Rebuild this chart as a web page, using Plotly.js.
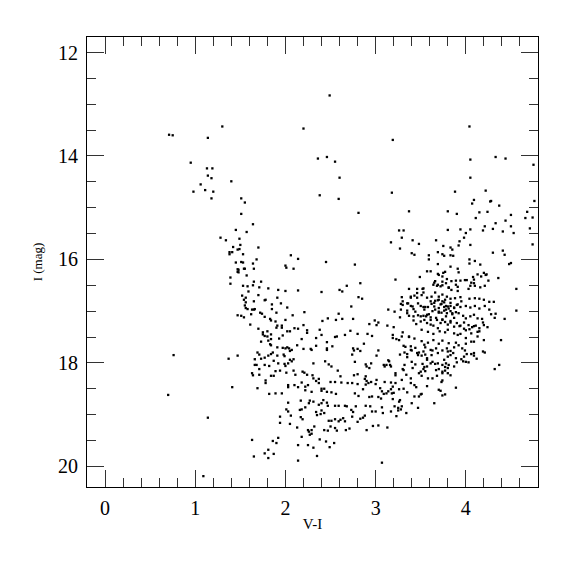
<!DOCTYPE html>
<html><head><meta charset="utf-8">
<script src="https://cdn.plot.ly/plotly-3.0.1.min.js"></script>
<style>html,body{margin:0;padding:0;background:#fff}</style>
</head><body><div id="chart" style="width:575px;height:575px"></div>
<script>
// Colour index V-I of each star
const colorVI = [
0.71,0.75,1.30,1.14,0.95,1.13,1.19,1.14,1.18,1.40,1.06,1.11,1.20,0.98,1.18,
2.49,2.20,2.36,2.46,2.55,2.60,2.38,2.59,1.51,1.55,1.51,2.81,
4.04,3.19,4.05,4.33,4.44,4.75,4.05,3.18,3.88,4.22,4.09,4.07,4.27,4.28,4.37,4.76,3.37,3.80,3.90,4.15,4.24,4.68,4.50,4.11,4.66,4.74,
1.45,1.28,1.34,1.42,1.38,1.38,1.41,1.47,1.45,1.47,1.47,1.39,1.39,1.47,
1.64,1.57,1.49,1.50,1.49,1.53,1.70,1.51,1.53,1.64,1.68,1.54,1.55,1.65,1.48,1.48,1.57,2.06,2.14,2.00,
2.01,2.09,2.45,2.77,1.53,1.58,1.65,1.73,1.64,1.71,1.81,1.92,2.00,2.14,2.40,2.60,2.63,2.68,2.83,2.81,
2.85,1.52,1.56,1.54,1.56,1.59,1.65,1.70,1.77,1.78,1.85,1.91,1.95,1.85,2.02,1.55,1.56,1.58,1.63,1.65,
1.66,1.72,1.74,1.90,1.62,1.51,1.54,1.77,2.08,2.21,2.59,2.75,2.47,2.56,2.63,2.41,2.73,2.99,3.03,3.01,
3.14,3.13,2.93,1.83,1.84,1.91,1.90,1.96,1.96,1.89,2.00,1.61,1.70,1.80,1.75,1.75,1.77,1.80,1.84,1.84,
1.81,1.83,1.84,1.73,2.02,2.05,2.10,2.14,1.93,1.97,2.20,2.24,2.24,2.18,2.38,2.40,2.34,2.34,2.13,1.91,
1.97,2.00,2.02,2.04,2.20,2.28,2.46,2.55,2.57,2.52,2.46,2.66,2.72,2.80,2.87,2.91,2.96,2.75,2.80,
4.44,4.33,4.21,4.19,4.30,4.50,4.53,4.41,4.71,4.74,
4.05,3.94,3.80,4.00,3.98,3.93,3.92,4.05,3.26,3.31,
3.29,3.17,3.41,3.48,3.67,3.27,3.75,3.83,3.85,3.69,
3.74,3.76,3.83,3.86,3.40,3.43,3.59,3.59,4.30,4.41,
4.43,4.04,4.04,4.10,4.16,3.69,3.83,3.91,4.48,4.50,
3.57,3.61,3.69,3.75,3.92,4.13,4.20,4.23,3.49,4.08,
3.22,3.66,3.74,3.79,3.84,3.89,3.99,4.01,4.09,4.06,
4.25,4.36,3.64,3.68,3.74,3.53,3.46,3.37,3.91,3.91,
3.81,3.84,4.03,4.10,4.16,4.21,4.56,3.29,3.30,3.28,
3.39,3.43,3.46,3.53,3.51,3.57,3.62,3.66,3.70,3.74,
3.77,3.79,3.83,3.88,3.94,3.95,4.04,4.10,4.15,4.20,
4.26,4.31,3.36,3.39,3.42,3.35,3.28,3.21,3.27,
3.47,3.50,3.53,3.55,3.58,3.62,3.66,3.70,3.73,3.74,
3.76,3.78,3.81,3.83,3.87,3.90,3.94,4.00,4.05,4.10,
4.15,4.21,4.26,4.28,4.33,4.32,4.43,4.56,3.37,3.42,
3.47,3.50,3.53,3.56,3.59,3.61,3.66,3.70,3.73,3.76,
3.79,3.83,3.85,3.89,3.92,3.97,4.00,4.05,4.09,4.13,
4.18,3.20,3.19,3.30,3.37,3.42,3.45,3.50,3.54,3.57,
3.61,3.64,3.68,3.72,3.74,3.77,3.80,3.83,3.87,3.90,
3.94,3.98,4.03,4.07,4.11,4.15,4.20,4.24,3.51,3.58,
3.64,3.71,3.77,3.87,3.94,4.00,4.06,4.13,4.39,3.23,
3.29,3.37,3.43,3.51,3.58,3.64,3.70,3.74,3.81,3.89,
3.92,4.00,4.09,3.31,3.39,3.44,3.55,3.67,3.79,3.87,
3.96,
3.70,3.74,3.77,3.65,3.69,3.72,3.78,3.81,3.89,3.94,
4.05,4.09,4.17,4.22,3.39,3.46,3.52,
3.30,3.35,3.41,3.44,3.35,
3.54,3.57,3.63,3.67,3.70,3.74,3.78,3.83,3.87,3.93,
3.98,4.04,4.09,4.15,4.19,
3.61,3.69,3.80,3.91,4.00,4.06,4.13,4.20,
3.19,3.26,3.33,3.39,3.46,3.54,3.61,3.69,3.80,
3.89,3.98,4.09,4.19,
3.09,3.15,3.22,3.31,3.41,3.50,3.57,3.67,3.74,3.80,
3.61,3.65,3.69,3.72,3.76,3.80,3.83,3.87,3.91,3.70,3.78,3.85,3.65,
0.76,1.37,1.47,1.41,0.70,1.14,1.09,
1.69,1.71,1.81,1.84,1.86,1.91,1.98,1.99,2.05,2.07,
2.29,2.46,2.74,2.76,2.83,3.01,3.03,1.73,1.66,1.77,
1.87,2.05,2.07,2.09,1.66,1.68,1.77,1.82,1.92,1.99,
2.00,2.03,2.31,2.44,2.48,2.77,2.89,2.90,2.93,2.95,
3.10,3.12,1.63,1.64,1.71,1.71,1.89,1.94,1.87,1.84,
2.01,2.09,2.11,2.19,2.21,2.24,2.30,2.31,2.37,2.34,
2.37,2.51,2.58,2.61,2.76,2.80,2.89,2.88,2.90,2.92,
2.95,3.01,3.10,3.00,1.78,1.78,1.69,1.82,1.89,1.96,
2.03,2.03,2.10,2.14,2.18,2.22,2.25,2.22,2.29,2.40,
2.40,2.43,2.46,2.50,2.55,2.51,2.56,2.62,2.69,2.74,
2.80,2.89,2.86,3.05,3.07,3.09,2.77,2.81,2.93,2.96,
3.06,3.03,3.12,2.03,2.01,2.03,2.17,2.16,2.18,2.22,
2.26,2.27,2.31,2.37,2.40,2.34,2.39,2.35,2.42,2.46,
2.47,2.40,2.43,2.55,2.59,2.66,2.68,2.48,2.51,2.55,
2.59,2.61,2.64,2.66,2.73,2.75,2.78,2.74,2.80,2.83,
2.86,2.88,2.89,2.94,2.96,3.00,3.07,3.08,2.97,3.03,
3.13,2.90,1.94,2.05,2.13,2.17,2.19,2.25,2.26,2.29,
2.29,2.27,2.18,2.38,2.32,2.43,2.47,2.50,2.55,2.57,
2.67,2.71,2.45,2.54,2.14,2.25,2.31,2.49,1.63,1.86,
1.92,1.90,1.65,1.77,1.81,1.81,1.87,2.35,2.14,3.07,
2.06,1.94,
3.14,3.16,3.17,3.27,3.32,3.35,3.35,3.40,3.48,3.47,
3.51,3.53,3.55,3.57,3.62,3.63,3.74,3.83,3.86,3.83,
3.80,3.99,4.01,4.06,4.09,4.12,4.21,3.32,3.30,3.40,
3.44,3.52,3.54,3.57,3.61,3.63,3.66,3.69,3.76,3.74,
3.77,3.78,3.81,3.87,3.90,3.95,3.97,4.00,4.03,4.37,
4.32,3.53,3.55,3.70,3.74,3.77,3.80,3.83,3.22,3.29,
3.34,3.39,3.48,3.51,3.58,3.63,3.68,3.74,3.73,3.17,
3.22,3.39,3.43,3.45,3.57,3.19,3.17,3.14,3.18,3.20,
3.26,3.31,3.35,3.43,3.48,3.50,3.51,3.70,3.72,3.74,
3.77,3.89,3.19,3.27,3.26,3.40,3.65,3.21,3.25,3.29,
3.28,3.25,3.17,3.34,3.47,3.23
];
// I magnitude of each star (same order)
const magI = [
13.59,13.60,13.43,13.65,14.13,14.24,14.24,14.38,14.43,14.49,14.55,14.66,14.69,14.69,14.82,
12.83,13.47,14.05,14.02,14.11,14.42,14.76,14.83,14.82,14.90,15.12,15.10,
13.43,13.69,14.07,14.02,14.05,14.17,14.42,14.71,14.69,14.67,14.85,14.92,14.88,14.87,14.96,14.87,15.07,15.07,15.12,15.09,15.08,15.08,15.14,15.20,15.20,15.19,
15.43,15.58,15.63,15.76,15.86,15.90,15.86,15.81,16.06,16.19,16.24,16.35,16.47,17.08,
15.32,15.47,15.60,15.72,15.80,15.90,15.77,16.05,16.06,16.08,16.00,16.18,16.18,16.18,16.20,16.25,16.31,15.92,15.99,16.12,
16.16,16.18,16.05,16.10,16.51,16.52,16.43,16.43,16.50,16.54,16.56,16.59,16.61,16.60,16.63,16.59,16.62,16.51,16.46,16.73,
16.76,16.70,16.74,16.78,16.83,16.62,16.81,16.69,16.79,16.78,16.87,16.74,16.85,16.96,16.93,16.89,16.94,16.96,16.97,16.97,
16.96,17.03,17.05,17.03,17.06,17.09,17.12,17.11,17.08,17.02,17.05,17.15,17.14,17.17,17.15,17.19,16.91,17.18,17.22,17.27,
16.97,17.28,17.25,17.15,17.18,17.28,17.32,17.28,17.32,17.20,17.17,17.26,17.34,17.39,17.41,17.45,17.48,17.49,17.45,17.54,
17.57,17.64,17.66,17.59,17.39,17.39,17.33,17.34,17.53,17.47,17.27,17.37,17.42,17.54,17.36,17.46,17.52,17.67,17.66,17.70,
17.71,17.72,17.70,17.72,17.73,17.73,17.60,17.50,17.49,17.68,17.72,17.46,17.38,17.44,17.63,17.44,17.48,17.72,17.73,
15.25,15.30,15.36,15.44,15.41,15.36,15.49,15.46,15.40,15.71,
15.42,15.42,15.43,15.49,15.58,15.65,15.73,15.72,15.44,15.44,
15.58,15.67,15.63,15.70,15.63,15.79,15.74,15.77,15.81,15.86,
15.90,15.93,15.92,15.93,15.88,15.91,15.92,16.00,15.87,15.83,
15.91,16.00,16.08,16.03,16.10,16.09,16.14,16.18,16.09,16.07,
16.23,16.23,16.28,16.26,16.25,16.29,16.26,16.29,16.34,16.34,
16.39,16.42,16.43,16.38,16.42,16.41,16.40,16.40,16.39,16.45,
16.41,16.36,16.49,16.51,16.50,16.56,16.57,16.57,16.61,16.53,
16.54,16.59,16.57,16.51,16.54,16.51,16.57,16.73,16.81,16.86,
16.74,16.70,16.74,16.64,16.69,16.74,16.72,16.64,16.72,16.68,
16.78,16.72,16.76,16.75,16.73,16.81,16.76,16.75,16.76,16.78,
16.82,16.82,16.85,16.90,16.96,16.99,16.97,17.01,17.12,
16.85,16.90,16.92,16.92,16.92,16.86,16.80,16.78,16.86,16.81,
16.92,16.90,16.95,16.90,16.93,16.88,16.92,16.90,16.93,16.90,
16.95,16.90,16.97,17.06,17.05,17.13,17.15,16.99,17.09,17.10,
17.08,17.10,17.09,17.10,17.06,17.12,16.97,17.01,17.03,16.99,
17.04,17.00,17.06,17.02,17.04,17.09,17.14,17.10,17.07,17.14,
17.15,17.31,17.46,17.41,17.49,17.18,17.25,17.20,17.17,17.23,
17.17,17.28,17.17,17.23,17.17,17.21,17.26,17.19,17.30,17.23,
17.28,17.34,17.27,17.31,17.28,17.33,17.27,17.31,17.36,17.40,
17.44,17.39,17.41,17.43,17.44,17.37,17.43,17.40,17.56,17.54,
17.49,17.50,17.53,17.58,17.61,17.56,17.63,17.57,17.62,17.61,
17.66,17.63,17.59,17.67,17.68,17.71,17.70,17.72,17.72,17.70,
17.72,
16.30,16.33,16.24,16.45,16.49,16.52,16.46,16.55,16.49,16.41,
16.51,16.46,16.33,16.30,16.72,16.65,16.57,
16.88,16.85,16.91,17.01,17.04,
16.97,17.07,17.00,17.13,17.03,17.16,17.10,17.22,17.13,17.29,
17.22,17.35,17.29,17.39,17.22,
17.26,17.33,17.36,17.46,17.52,17.59,17.49,17.56,
17.52,17.56,17.69,17.75,17.81,17.65,17.75,17.81,17.78,
17.91,17.88,17.81,17.78,
18.04,17.97,18.20,18.14,18.10,18.17,18.07,18.14,18.20,18.10,
16.81,16.84,16.79,16.87,16.83,16.91,16.84,16.94,16.87,16.94,16.97,17.04,16.91,
17.85,17.92,17.86,18.47,18.62,19.06,20.19,
17.80,17.84,17.86,17.83,17.80,17.86,17.84,17.87,17.77,17.75,
17.75,17.75,17.84,17.76,17.77,17.86,17.76,17.92,17.93,17.90,
17.96,17.94,17.97,17.93,18.04,18.04,18.04,18.06,18.01,18.02,
18.06,18.01,18.01,17.97,18.03,17.98,18.03,18.07,18.10,18.01,
18.07,18.04,18.20,18.24,18.12,18.23,18.16,18.15,18.25,18.25,
18.19,18.15,18.23,18.17,18.19,18.23,18.24,18.30,18.31,18.35,
18.39,18.07,18.15,18.26,18.24,18.22,18.26,18.31,18.35,18.39,
18.37,18.33,18.37,18.41,18.34,18.39,18.49,18.60,18.59,18.59,
18.43,18.47,18.43,18.47,18.38,18.46,18.43,18.53,18.56,18.50,
18.54,18.50,18.56,18.37,18.37,18.57,18.60,18.38,18.39,18.39,
18.41,18.42,18.51,18.49,18.55,18.60,18.59,18.64,18.66,18.65,
18.69,18.66,18.59,18.77,18.90,18.94,18.73,18.91,18.90,18.86,
18.78,18.73,18.75,18.81,18.78,18.95,18.99,19.01,18.72,18.77,
18.83,18.92,18.97,18.83,18.83,18.83,18.84,19.12,19.12,19.09,
19.13,19.10,19.07,19.13,18.91,18.95,18.84,19.04,19.14,19.08,
19.06,19.02,18.83,18.84,18.94,18.94,18.86,18.97,19.22,19.21,
19.25,19.30,19.16,19.18,19.25,19.05,19.09,19.30,19.33,19.30,
19.37,19.39,19.43,19.48,19.23,19.30,19.31,19.23,19.26,19.31,
19.30,19.27,19.52,19.55,19.59,19.59,19.64,19.63,19.49,19.51,
19.45,19.55,19.81,19.75,19.68,19.84,19.76,19.80,19.89,19.93,
19.02,19.04,
17.95,18.04,18.07,17.84,17.80,17.83,17.89,17.76,17.80,17.85,
17.86,17.78,17.84,17.91,17.85,17.76,17.76,17.77,17.81,17.85,
17.88,17.76,17.83,17.83,17.86,17.92,17.80,18.04,18.12,17.98,
18.03,18.02,18.08,17.94,18.01,17.98,18.02,18.01,17.94,18.04,
18.08,18.01,18.04,18.07,17.99,17.93,17.97,17.98,17.99,18.04,
18.12,18.12,18.16,18.12,18.17,18.15,18.20,18.24,18.24,18.33,
18.23,18.30,18.20,18.25,18.30,18.30,18.25,18.34,18.37,18.38,
18.39,18.39,18.43,18.47,18.45,18.46,18.51,18.55,18.59,18.58,
18.51,18.50,18.57,18.65,18.65,18.61,18.60,18.52,18.54,18.63,
18.61,18.48,18.70,18.72,18.75,18.78,18.78,18.84,18.87,18.84,
18.90,18.92,18.94,18.97,18.87,19.03
];
const xTickVals = [0, 1, 2, 3, 4];
const yTickVals = [12, 14, 16, 18, 20];

const n = Math.min(colorVI.length, magI.length);

const fontFam = 'Liberation Serif';
const axisCommon = {
  showgrid: false, zeroline: false,
  showline: true, linecolor: '#000', linewidth: 1, mirror: 'ticks',
  ticks: 'inside', ticklen: 17, tickwidth: 1, tickcolor: '#333',
  tickfont: {family: fontFam, size: 20, color: '#000'},
};
Plotly.newPlot('chart', [{
  type: 'scatter', mode: 'markers',
  x: colorVI.slice(0, n), y: magI.slice(0, n),
  marker: {symbol: 'square', size: 2.3, color: '#000', line: {width: 0}},
  hoverinfo: 'skip'
}], {
  width: 575, height: 575,
  margin: {l: 87, r: 37, t: 37, b: 88},
  paper_bgcolor: '#fff', plot_bgcolor: '#fff',
  showlegend: false,
  xaxis: Object.assign({}, axisCommon, {
    range: [-0.2, 4.8], tickmode: 'array', tickvals: xTickVals,
    ticklabelstandoff: 3,
    minor: {dtick: 0.2, tick0: 0, ticks: 'inside', ticklen: 9, tickwidth: 1, tickcolor: '#333'},
    title: {text: 'V-I', font: {family: fontFam, size: 15, color: '#000'}, standoff: 0}
  }),
  yaxis: Object.assign({}, axisCommon, {
    range: [20.4, 11.7], tickmode: 'array', tickvals: yTickVals,
    ticklabelstandoff: 4,
    minor: {dtick: 0.5, tick0: 12, ticks: 'inside', ticklen: 9, tickwidth: 1, tickcolor: '#333'},
    title: {text: 'I (mag)', font: {family: fontFam, size: 13, color: '#000'}, standoff: 12}
  })
}, {staticPlot: true});
</script></body></html>
